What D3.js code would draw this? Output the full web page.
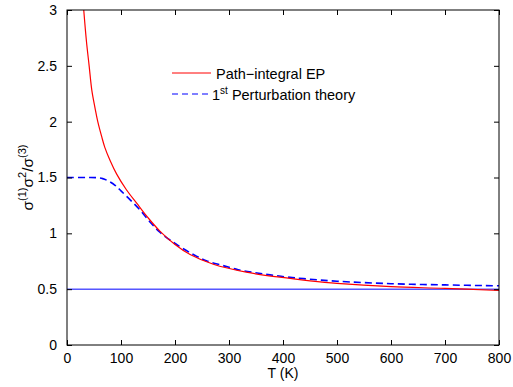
<!DOCTYPE html>
<html>
<head>
<meta charset="utf-8">
<script src="https://cdn.jsdelivr.net/npm/d3@7"></script>
<style>
  body { margin: 0; background: #fff; }
  svg { display: block; font-family: "Liberation Sans", Arial, sans-serif; }
</style>
</head>
<body>
<svg id="chart"></svg>
<script>
// values
const xTicks = [0, 100, 200, 300, 400, 500, 600, 700, 800];
const yTicks = [0, 0.5, 1, 1.5, 2, 2.5, 3];
const yTickLabels = ["0", "0.5", "1", "1.5", "2", "2.5", "3"];

const pathIntegralT = [31, 36, 41, 46, 52, 57, 64, 70, 80, 92, 110, 129, 150, 172, 200, 228, 271, 332, 394, 450, 500, 600, 700, 800];
const pathIntegralV = [3.0, 2.72, 2.5, 2.28, 2.12, 2.0, 1.87, 1.77, 1.65, 1.53, 1.39, 1.27, 1.14, 1.02, 0.9, 0.81, 0.723, 0.652, 0.607, 0.575, 0.552, 0.522, 0.507, 0.488];

const perturbT = [0, 40, 55, 66, 78, 89, 100, 117, 135, 154, 172, 203, 234, 258, 289, 317, 348, 376, 407, 438, 500, 600, 700, 800];
const perturbV = [1.5, 1.5, 1.498, 1.49, 1.465, 1.43, 1.38, 1.30, 1.21, 1.10, 1.01, 0.90, 0.81, 0.755, 0.711, 0.674, 0.648, 0.628, 0.609, 0.594, 0.571, 0.549, 0.538, 0.53];

const baselineValue = 0.5;
const legendLabels = ["Path\u2212integral EP", "Perturbation theory"];

const chartWidth = 513, chartHeight = 387;
const plotLeft = 67, plotRight = 499, plotTop = 10, plotBottom = 345;

const svg = d3.select("#chart").attr("width", chartWidth).attr("height", chartHeight);

const x = d3.scaleLinear().domain([0, 800]).range([plotLeft, plotRight]);
const y = d3.scaleLinear().domain([0, 3]).range([plotBottom, plotTop]);

// clip for curves
svg.append("clipPath").attr("id", "clip")
  .append("rect").attr("x", plotLeft).attr("y", plotTop)
  .attr("width", plotRight - plotLeft).attr("height", plotBottom - plotTop);

const plot = svg.append("g").attr("clip-path", "url(#clip)");

// horizontal 0.5 line
plot.append("line")
  .attr("x1", x(0)).attr("x2", x(800))
  .attr("y1", y(baselineValue)).attr("y2", y(baselineValue))
  .attr("stroke", "#0000ff").attr("stroke-width", 1);

const line = d3.line()
  .x(d => x(d[0]))
  .y(d => y(d[1]))
  .curve(d3.curveCatmullRom.alpha(0.5));

plot.append("path")
  .datum(perturbT.map((t, i) => [t, perturbV[i]]))
  .attr("d", line)
  .attr("fill", "none")
  .attr("stroke", "#0000ff")
  .attr("stroke-width", 1.6)
  .attr("stroke-dasharray", "7,4");

plot.append("path")
  .datum(pathIntegralT.map((t, i) => [t, pathIntegralV[i]]))
  .attr("d", line)
  .attr("fill", "none")
  .attr("stroke", "#ff0000")
  .attr("stroke-width", 1.2);

// axes (MATLAB box with inward ticks)
const fontSize = 14;
svg.append("g")
  .attr("transform", `translate(0,${plotBottom})`)
  .call(d3.axisBottom(x).tickValues(xTicks).tickSize(-5).tickPadding(8).tickSizeOuter(0))
  .call(g => g.selectAll("text").attr("font-size", fontSize).attr("fill", "#000"));

svg.append("g")
  .attr("transform", `translate(${plotLeft},0)`)
  .call(d3.axisLeft(y).tickValues(yTicks).tickFormat((d, i) => yTickLabels[i]).tickSize(-5).tickPadding(10).tickSizeOuter(0))
  .call(g => g.selectAll("text").attr("font-size", fontSize).attr("fill", "#000"));

svg.append("g")
  .attr("transform", `translate(0,${plotTop})`)
  .call(d3.axisTop(x).tickValues(xTicks).tickSize(-5).tickFormat("").tickSizeOuter(0));

svg.append("g")
  .attr("transform", `translate(${plotRight},0)`)
  .call(d3.axisRight(y).tickValues(yTicks).tickSize(-5).tickFormat("").tickSizeOuter(0));

svg.selectAll(".domain").remove();
svg.selectAll(".tick line").attr("stroke", "#000");
svg.selectAll("g").attr("font-family", null);

svg.append("rect")
  .attr("x", plotLeft).attr("y", plotTop)
  .attr("width", plotRight - plotLeft).attr("height", plotBottom - plotTop)
  .attr("fill", "none").attr("stroke", "#000").attr("stroke-width", 1);

// axis labels
svg.append("text")
  .attr("x", (plotLeft + plotRight) / 2).attr("y", 378)
  .attr("text-anchor", "middle").attr("font-size", fontSize)
  .text("T (K)");

const yl = svg.append("text")
  .attr("transform", `translate(33,${(plotTop + plotBottom) / 2}) rotate(-90)`)
  .attr("text-anchor", "middle").attr("font-size", 15.5);
yl.append("tspan").text("\u03c3");
yl.append("tspan").attr("dy", -7).attr("font-size", 11).text("(1)");
yl.append("tspan").attr("dy", 7).text("\u03c3");
yl.append("tspan").attr("dy", -7).attr("font-size", 11).text("2");
yl.append("tspan").attr("dy", 7).text("/\u03c3");
yl.append("tspan").attr("dy", -7).attr("font-size", 11).text("(3)");

// legend
const legend = svg.append("g");
legend.append("line")
  .attr("x1", 172).attr("x2", 211).attr("y1", 73).attr("y2", 73)
  .attr("stroke", "#ff0000").attr("stroke-width", 1);
legend.append("text")
  .attr("x", 216).attr("y", 79).attr("font-size", 14.5)
  .text(legendLabels[0]);
legend.append("line")
  .attr("x1", 172).attr("x2", 211).attr("y1", 94).attr("y2", 94)
  .attr("stroke", "#0000ff").attr("stroke-width", 1.2).attr("stroke-dasharray", "6,4");
const lt = legend.append("text")
  .attr("x", 212).attr("y", 100).attr("font-size", 14.5);
lt.append("tspan").text("1");
lt.append("tspan").attr("dy", -6).attr("font-size", 10).text("st");
lt.append("tspan").attr("dy", 6).text(" " + legendLabels[1]);
</script>
</body>
</html>
